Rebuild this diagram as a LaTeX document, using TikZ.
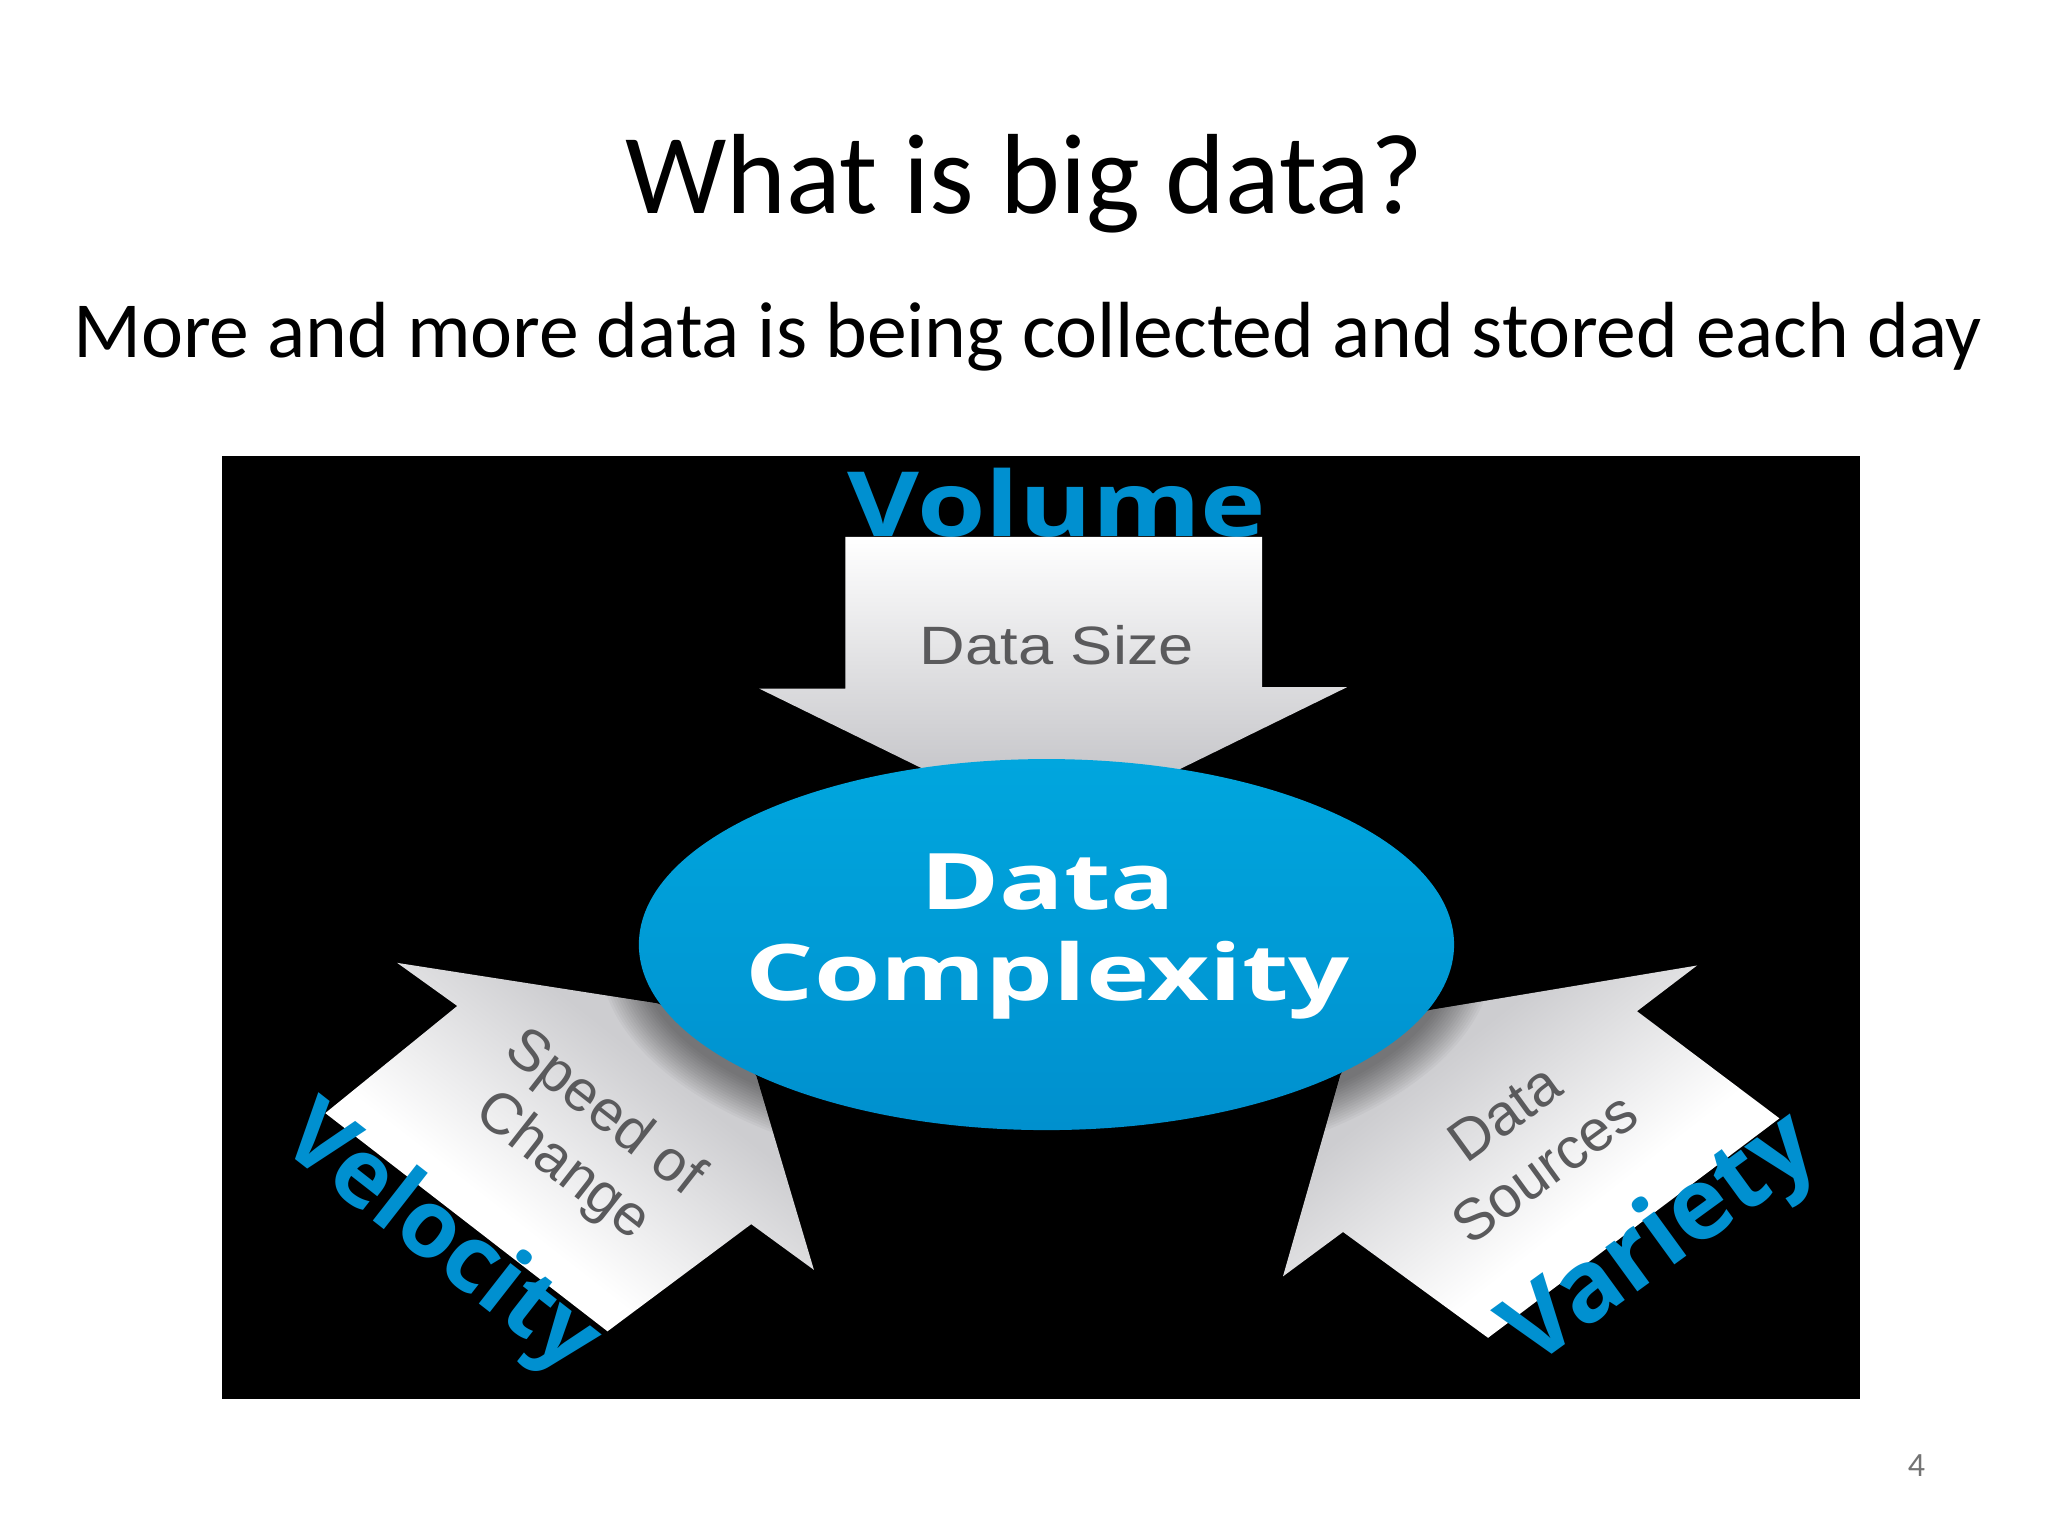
\documentclass[tikz,border=0pt]{standalone}
\usepackage{fontspec}
\setmainfont{Carlito}
\newfontfamily\labelfont{Open Sans}[BoldFont={Open Sans Bold}]
\newfontfamily\arrowfont{Liberation Sans}
\definecolor{bluelabel}{HTML}{0090D0}
\definecolor{ballt}{HTML}{00A6DE}
\definecolor{ballb}{HTML}{0090CE}
\definecolor{graytext}{HTML}{5A5A5C}
\definecolor{arrowg}{HTML}{C4C4C8}
\definecolor{sideg}{HTML}{CDCDD0}
\pgfdeclareverticalshading{arrowfade}{100bp}{color(0bp)=(sideg); color(38bp)=(sideg); color(58bp)=(white); color(100bp)=(white)}
\tikzset{
  x=0.65325pt,y=-0.65325pt,
  titletext/.style={inner sep=0pt,text=black,font=\fontsize{57}{64}\selectfont},
  subtext/.style={inner sep=0pt,text=black,font=\fontsize{39.8}{46}\selectfont},
  biglabel/.style={inner sep=0pt,text=bluelabel,font=\labelfont\bfseries\fontsize{45}{50}\selectfont},
  arrowlabel/.style={inner sep=0pt,text=graytext,align=center,font=\arrowfont\fontsize{29}{34}\selectfont},
  centerlabel/.style={inner sep=0pt,text=white,align=center,font=\labelfont\bfseries\fontsize{39}{45.7}\selectfont},
}
\newcommand{\shadowrings}{%
  \foreach \d in {0,2,...,30}{\fill[black,opacity=0.03] (801,731) ellipse ({312+\d} and {142+\d});}}
\begin{document}
\begin{tikzpicture}
\useasboundingbox (0,0) rectangle (1567.6,1175.7);
\fill[white] (0,0) rectangle (1567.6,1175.7);
\node[titletext] (title) at (784,141) {What is big data?};
\node[subtext] (sub) at (786.5,258) {More and more data is being collected and stored each day};
\fill[black] (170,349) rectangle (1424,1071);
% Volume label lies behind its arrow
\node[biglabel,xscale=1.23,anchor=base] (volume) at (809,411) {Volume};
% top arrow
\shade[top color=white,bottom color=arrowg]
  (647,411) -- (966,411) -- (966,526) -- (1031,526) -- (880,600) -- (730,600) -- (581,527) -- (647,527) -- cycle;
% left arrow
\begin{scope}
\clip (304,737) -- (350,770) -- (249,852) -- (465,1019) -- (575,937) -- (623,972) -- (579,824) -- (560,790) -- (503,768) -- cycle;
\shade[shading=arrowfade,shading angle=142] (240,690) rectangle (640,1090);
\shadowrings
\end{scope}
% right arrow
\begin{scope}
\clip (1299,739) -- (1253,774) -- (1362,856) -- (1139,1024) -- (1028,943) -- (982,977) -- (1026,823) -- (1045,790) -- (1095,773) -- cycle;
\shade[shading=arrowfade,shading angle=-142] (970,680) rectangle (1370,1080);
\shadowrings
\end{scope}
% centre
\shade[top color=ballt,bottom color=ballb] (801,723) ellipse (312 and 142);
\node[centerlabel,xscale=1.375] (centre) at (802,717) {Data\\Complexity};
\node[arrowlabel,font=\arrowfont\fontsize{27}{32}\selectfont,xscale=1.17] (size) at (809,494) {Data Size};
\node[arrowlabel,rotate=-38] (speed) at (446,873) {Speed of\\Change};
\node[arrowlabel,rotate=36] (sources) at (1167,873) {Data\\Sources};
\node[biglabel,font=\labelfont\bfseries\fontsize{47}{52}\selectfont,rotate=-38,anchor=center] (velocity) at (336,950) {Velocity};
\node[biglabel,font=\labelfont\bfseries\fontsize{50}{55}\selectfont,rotate=36,anchor=center] (variety) at (1272,951) {Variety};
\node[inner sep=0pt,text=black!55,font=\fontsize{17}{20}\selectfont] (page) at (1467,1122) {4};
\end{tikzpicture}
\end{document}
